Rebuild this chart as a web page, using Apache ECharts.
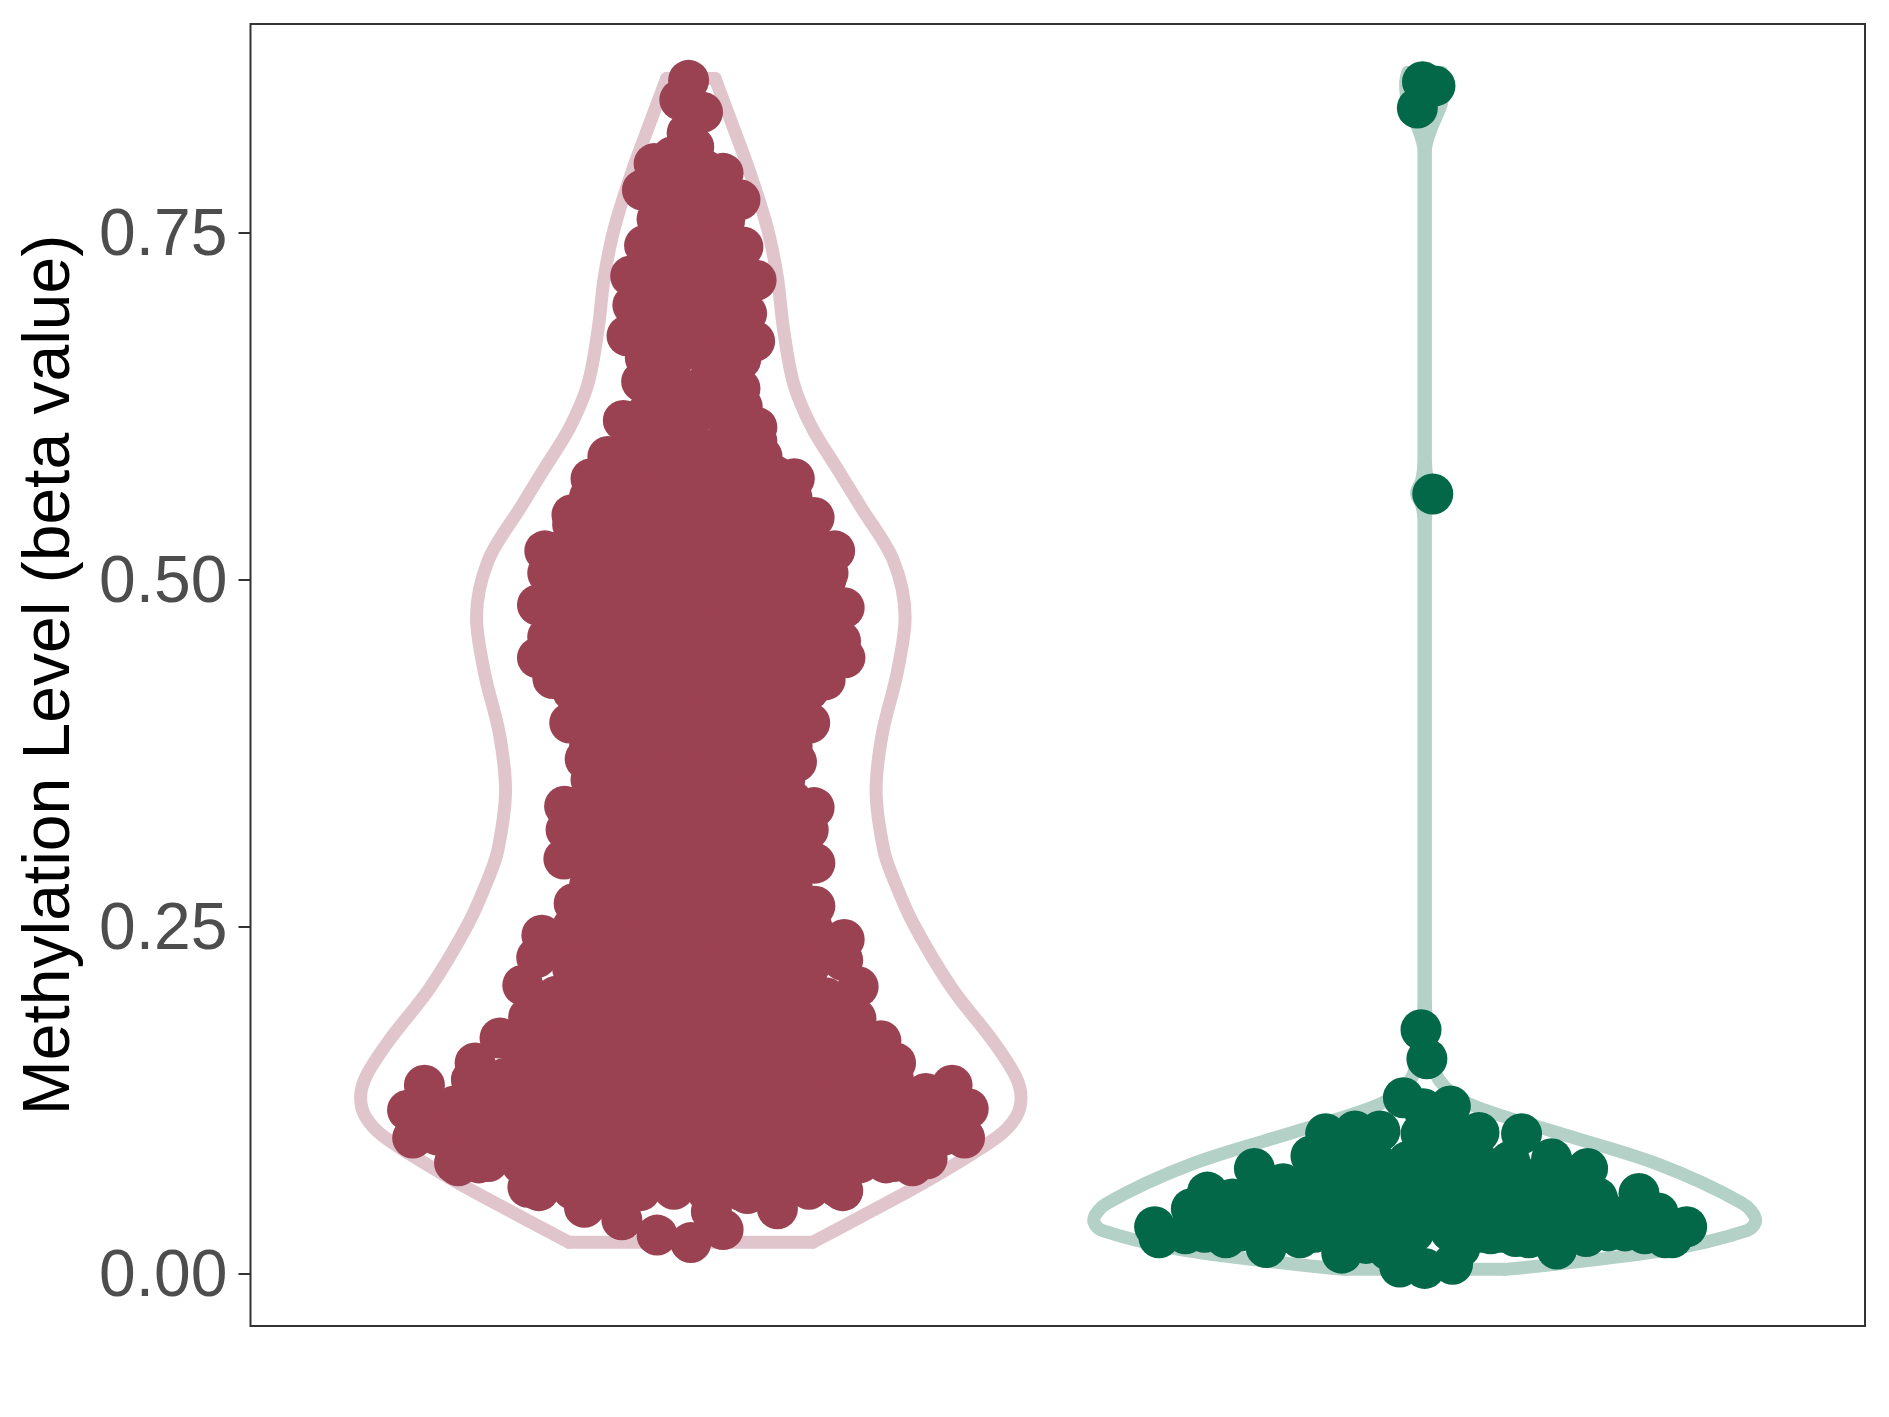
<!DOCTYPE html>
<html>

<head>
    <meta charset="utf-8">
    <title>Methylation Level</title>
    <script type="text/javascript" src="https://cdn.jsdelivr.net/npm/echarts@6/dist/echarts.min.js"></script>
</head>
<style type="text/css">
    html,
    body {
        margin: 0;
        background: #fff;
    }

    #chart {
        width: 1889px;
        height: 1417px;
    }
</style>

<body>
    <div id="chart"></div>

    <script type="text/javascript">
        var yTicks = [0, 0.25, 0.5, 0.75];

        // violin outlines, bottom to top: beta value and half width
        var violin1Beta = [.0228, .0450, .0674, .0984, .1130, .1272, .1430, .1683, .2065, .2526, .2836, .3052, .3484, .3895, .4327, .4731, .5141, .5523, .5790, .6099, .6416, .6820, .7180, .7540, .7929, .8289, .8614];
        var violin1Half = [.166, .245, .323, .417, .443, .450, .442, .411, .355, .303, .277, .263, .2525, .261, .281, .292, .276, .232, .201, .165, .140, .126, .118, .104, .081, .056, .033];
        var violin2Beta = [.0033, .0048, .0170, .0314, .0386, .0509, .0797, .1035, .1229, .1395, .1611, .1971, .5430, .5540, .5625, .5720, .5860, .8095, .8240, .8435, .8577, .8657];
        var violin2Half = [.109, .139, .327, .440, .451, .433, .315, .170, .059, .020, .007, .001, .001, .004, .011, .004, .001, .001, .008, .023, .026, .023];

        // dots: [offset from violin centre, beta value]
        var maroonEdgeUpper = [
            [-.003, .860], [-.015, .846], [.016, .837], [-.005, .822], [.004, .812], [-.050, .800], [.044, .793],
            [-.066, .781], [.067, .774], [-.063, .741], [.071, .740], [-.082, .719], [.089, .716], [-.079, .698],
            [.076, .692], [-.087, .676], [.087, .672], [-.067, .643], [.067, .638], [-.092, .615], [.090, .610],
            [-.113, .589], [.097, .589], [-.136, .573], [.141, .573]
        ];
        var maroonEdgeMiddle = [
            [-.162, .547], [.168, .545], [-.199, .521], [.196, .521], [-.195, .505], [.187, .505], [-.209, .482],
            [.209, .480], [-.195, .459], [.204, .456], [-.209, .444], [.210, .444], [-.188, .429], [.183, .428],
            [-.165, .397], [.162, .397], [-.144, .371], [.144, .369], [-.136, .356], [.128, .356], [-.172, .337],
            [.168, .336], [-.170, .320], [.160, .320], [-.173, .299], [.169, .296], [-.159, .267], [.169, .265]
        ];
        var maroonEdgeLower = [
            [-.203, .244], [.209, .241], [-.210, .228], [.207, .226], [-.229, .208], [.228, .207], [-.221, .185],
            [.225, .184], [-.260, .170], [.259, .168], [-.294, .152], [.279, .152], [-.363, .136], [.356, .136],
            [.320, .130], [-.386, .118], [.378, .119], [-.379, .098], [.373, .098], [-.317, .078], [-.289, .080],
            [.266, .080], [.302, .078], [-.222, .0625], [-.186, .069], [.200, .0625], [.077, .058], [-.145, .048],
            [-.094, .039], [-.046, .028], [0, .0226], [.044, .032], [.028, .045], [.118, .047]
        ];
        var maroonInnerUpper = [
            [-.022, .780], [.024, .781], [-.046, .760], [.001, .761], [.046, .759], [-.024, .741], [.023, .739],
            [-.046, .720], [0, .721], [.047, .719], [-.069, .701], [-.023, .699], [.023, .700], [.068, .699],
            [-.046, .680], [0, .681], [.046, .679], [-.023, .660], [.023, .661], [-.062, .660], [.068, .659],
            [-.020, .640], [.020, .641], [-.035, .620], [.010, .621], [.050, .619], [-.046, .600], [0, .601],
            [.046, .599], [-.069, .580], [-.023, .581], [.023, .579], [.069, .580], [-.092, .560], [-.046, .561],
            [0, .559], [.046, .560], [.092, .561], [.138, .559]
        ];
        var maroonInnerMiddle1 = [
            [-.115, .540], [-.069, .541], [-.023, .539], [.023, .540], [.069, .541], [.115, .539], [-.138, .520],
            [-.092, .521], [-.046, .519], [0, .520], [.046, .521], [.092, .519], [.138, .520], [-.161, .500],
            [-.115, .501], [-.069, .499], [-.023, .500], [.023, .501], [.069, .499], [.115, .500], [.161, .501],
            [-.184, .480], [-.138, .481], [-.092, .479], [-.046, .480], [0, .481], [.046, .479], [.092, .480],
            [.138, .481], [.184, .479], [-.161, .460], [-.115, .461], [-.069, .459], [-.023, .460], [.023, .461],
            [.069, .459], [.115, .460], [.161, .461]
        ];
        var maroonInnerMiddle2 = [
            [-.184, .440], [-.138, .441], [-.092, .439], [-.046, .440], [0, .441], [.046, .439], [.092, .440],
            [.138, .441], [.184, .439], [-.161, .420], [-.115, .421], [-.069, .419], [-.023, .420], [.023, .421],
            [.069, .419], [.115, .420], [.161, .421], [-.138, .400], [-.092, .401], [-.046, .399], [0, .400],
            [.046, .401], [.092, .399], [.138, .400], [-.115, .380], [-.069, .381], [-.023, .379], [.023, .380],
            [.069, .381], [.115, .379], [-.092, .360], [-.046, .361], [0, .359], [.046, .360], [.092, .361]
        ];
        var maroonInnerMiddle3 = [
            [-.138, .340], [-.115, .341], [-.069, .339], [-.023, .340], [.023, .341], [.069, .339], [.115, .340],
            [.138, .341], [-.138, .320], [-.092, .321], [-.046, .319], [0, .320], [.046, .321], [.092, .319],
            [.138, .320], [-.115, .300], [-.069, .301], [-.023, .299], [.023, .300], [.069, .301], [.115, .299],
            [-.138, .280], [-.092, .281], [-.046, .279], [0, .280], [.046, .281], [.092, .279], [.138, .280],
            [-.115, .260], [-.069, .261], [-.023, .259], [.023, .260], [.069, .261], [.115, .259]
        ];
        var maroonInnerLower1 = [
            [-.184, .240], [-.138, .241], [-.092, .239], [-.046, .240], [0, .241], [.046, .239], [.092, .240],
            [.138, .241], [.184, .239], [-.161, .220], [-.115, .221], [-.069, .219], [-.023, .220], [.023, .221],
            [.069, .219], [.115, .220], [.161, .221], [-.184, .200], [-.138, .201], [-.092, .199], [-.046, .200],
            [0, .201], [.046, .199], [.092, .200], [.138, .201], [.184, .199], [-.207, .180], [-.161, .181],
            [-.115, .179], [-.069, .180], [-.023, .181], [.023, .179], [.069, .180], [.115, .181], [.161, .179],
            [.207, .180]
        ];
        var maroonInnerLower2 = [
            [-.230, .160], [-.184, .161], [-.138, .159], [-.092, .160], [-.046, .161], [0, .159], [.046, .160],
            [.092, .161], [.138, .159], [.184, .160], [.230, .161], [-.299, .140], [-.253, .141], [-.207, .139],
            [-.161, .140], [-.115, .141], [-.069, .139], [-.023, .140], [.023, .141], [.069, .139], [.115, .140],
            [.161, .141], [.207, .139], [.253, .140], [.276, .141], [-.368, .120], [-.322, .121], [-.276, .119],
            [-.230, .120], [-.184, .121], [-.138, .119], [-.092, .120], [-.046, .121], [0, .119], [.046, .120],
            [.092, .121], [.138, .119], [.184, .120], [.230, .121], [.276, .119], [.322, .120], [.368, .121]
        ];
        var maroonInnerLower3 = [
            [-.345, .100], [-.299, .101], [-.253, .099], [-.207, .100], [-.161, .101], [-.115, .099], [-.069, .100],
            [-.023, .101], [.023, .099], [.069, .100], [.115, .101], [.161, .099], [.207, .100], [.253, .101],
            [.299, .099], [.345, .100], [-.322, .080], [-.276, .081], [-.230, .079], [-.184, .080], [-.138, .081],
            [-.092, .079], [-.046, .080], [0, .081], [.046, .079], [.092, .080], [.138, .081], [.184, .079],
            [.230, .080], [.276, .081], [.322, .083], [-.207, .060], [-.161, .061], [-.115, .059], [-.069, .060],
            [-.023, .061], [.023, .059], [.069, .060], [.115, .059], [.161, .061], [.207, .060]
        ];
        var maroonGapFill = [
            [0, .800], [.020, .795], [-.020, .790], [-.025, .805], [.030, .770], [-.045, .660], [.045, .660],
            [-.050, .640], [.040, .640], [-.060, .620], [.070, .625], [-.070, .600], [.090, .600], [-.090, .580],
            [.115, .575], [-.115, .570], [-.138, .560], [-.161, .540], [.161, .540], [-.184, .520], [.184, .520],
            [-.184, .500], [.184, .500], [-.184, .460], [.184, .460], [-.138, .380], [.138, .380], [-.115, .360],
            [.115, .360], [-.138, .300], [.138, .300], [-.138, .260], [.138, .260], [-.161, .250], [.165, .250]
        ];

        var greenOutliers = [
            [-.003, .859], [.014, .856], [-.010, .840], [.011, .562], [-.005, .176], [.003, .155]
        ];
        var greenEdge = [
            [-.029, .127], [.035, .121], [-.002, .119], [-.135, .101], [-.095, .103], [-.061, .103], [.074, .102],
            [.132, .101], [-.005, .101], [.033, .101], [.173, .083], [.222, .076], [-.155, .085], [-.232, .076],
            [-.193, .065], [-.296, .059], [-.262, .054], [-.318, .047], [-.368, .034], [-.362, .026], [-.326, .029],
            [-.271, .026], [-.216, .019], [-.170, .026], [-.113, .015], [-.049, .017], [-.034, .005], [0, .004],
            [.038, .007], [.048, .019], [.079, .030], [.124, .027], [.142, .026], [.180, .018], [.220, .027],
            [.273, .031], [.292, .058], [.318, .044], [.328, .026], [.337, .026], [.357, .034], [.236, .053]
        ];
        var greenInner = [
            [-.116, .082], [-.070, .083], [-.023, .081], [.023, .082], [.070, .083], [.116, .081], [-.160, .064],
            [-.115, .065], [-.070, .063], [-.023, .064], [.023, .065], [.070, .063], [.115, .064], [.160, .065],
            [.200, .063], [-.270, .046], [-.220, .047], [-.170, .045], [-.120, .046], [-.075, .047], [-.030, .045],
            [.020, .046], [.065, .047], [.110, .045], [.155, .046], [.200, .047], [.245, .045], [.290, .046],
            [-.300, .030], [-.250, .031], [-.200, .029], [-.150, .030], [-.100, .031], [-.055, .029], [-.015, .030],
            [.035, .031], [.090, .029], [.180, .030], [.250, .031], [.300, .029]
        ];
        var greenGapFill = [
            [-.150, .072], [-.105, .073], [-.060, .071], [-.015, .072], [.030, .073], [.075, .071], [.120, .072],
            [.165, .073], [-.220, .055], [-.175, .056], [-.130, .054], [-.085, .055], [-.040, .056], [.005, .054],
            [.050, .055], [.095, .056], [.140, .054], [.235, .055], [-.285, .038], [-.240, .039], [-.195, .037],
            [-.150, .038], [-.105, .039], [-.060, .037], [-.015, .038], [.030, .039], [.075, .037], [.120, .038],
            [.165, .039], [.210, .037], [.255, .038], [.105, .030], [.150, .031], [.210, .030], [-.080, .022]
        ];

        var maroonDots = [].concat(maroonEdgeUpper, maroonEdgeMiddle, maroonEdgeLower, maroonInnerUpper,
            maroonInnerMiddle1, maroonInnerMiddle2, maroonInnerMiddle3, maroonInnerLower1, maroonInnerLower2,
            maroonInnerLower3, maroonGapFill);
        var greenDots = [].concat(greenOutliers, greenEdge, greenInner, greenGapFill);

        function outlineSeries(data, color, smooth) {
            return {
                type: 'line',
                data: data,
                smooth: smooth,
                showSymbol: false,
                silent: true,
                z: 2,
                lineStyle: {
                    color: color,
                    width: 13,
                    join: 'round',
                    cap: 'round'
                }
            };
        }

        // each side is smoothed on its own so the flat ends keep their corners
        function violinSeries(center, beta, half, color) {
            var left = beta.map(function(b, i) {
                return [center - half[i], b];
            });
            var right = beta.map(function(b, i) {
                return [center + half[i], b];
            });
            var last = beta.length - 1;
            return [
                outlineSeries(left, color, 0.33),
                outlineSeries(right, color, 0.33),
                outlineSeries([left[0], right[0]], color, false),
                outlineSeries([left[last], right[last]], color, false)
            ];
        }

        function dotSeries(center, dots, color) {
            return {
                type: 'scatter',
                data: dots.map(function(d) {
                    return [center + d[0], d[1]];
                }),
                symbol: 'circle',
                symbolSize: 41,
                silent: true,
                z: 3,
                itemStyle: {
                    color: color,
                    opacity: 1
                }
            };
        }

        var chart = echarts.init(document.getElementById('chart'));

        var option = {
            animation: false,
            backgroundColor: '#fff',
            grid: {
                show: true,
                left: 250.5,
                right: 24,
                top: 24,
                bottom: 91,
                borderColor: '#333',
                borderWidth: 2,
                backgroundColor: '#fff'
            },
            xAxis: {
                type: 'value',
                min: 0.4,
                max: 2.6,
                show: false
            },
            yAxis: {
                type: 'value',
                min: -0.0375,
                max: 0.9006,
                name: 'Methylation Level (beta value)',
                nameLocation: 'middle',
                nameGap: 167,
                nameTextStyle: {
                    color: '#000',
                    fontFamily: 'Liberation Sans',
                    fontSize: 66
                },
                splitLine: {
                    show: false
                },
                axisLine: {
                    show: false
                },
                axisTick: {
                    show: true,
                    length: 12,
                    customValues: yTicks,
                    lineStyle: {
                        color: '#333',
                        width: 2
                    }
                },
                axisLabel: {
                    customValues: yTicks,
                    margin: 23,
                    formatter: function(v) {
                        return '{tick|' + v.toFixed(2) + '}';
                    },
                    rich: {
                        tick: {
                            color: '#4D4D4D',
                            fontFamily: 'Liberation Sans',
                            fontSize: 66,
                            padding: [7, 0, 0, 0]
                        }
                    }
                }
            },
            series: [].concat(
                violinSeries(1, violin1Beta, violin1Half, '#E0C6CC'),
                violinSeries(2, violin2Beta, violin2Half, '#B4D1C7'),
                dotSeries(1, maroonDots, '#9B4252'),
                dotSeries(2, greenDots, '#036848')
            )
        };
        chart.setOption(option);
    </script>
</body>

</html>
